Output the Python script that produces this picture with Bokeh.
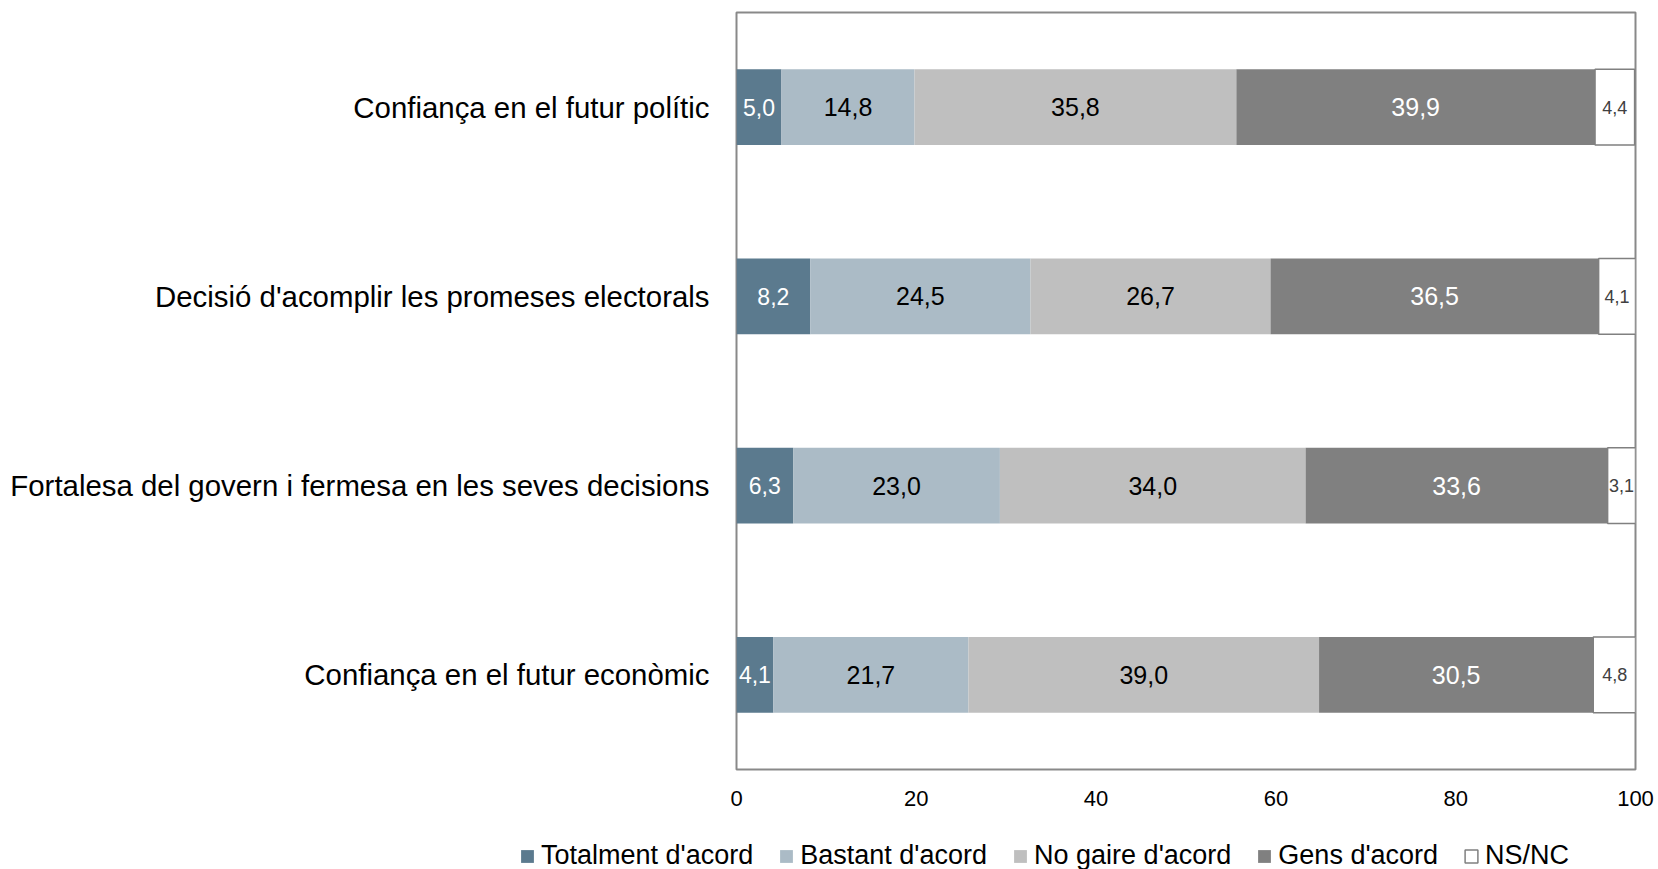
from bokeh.plotting import figure
from bokeh.models import ColumnDataSource, FactorRange, Legend, LegendItem, Range1d, FixedTicker
from bokeh.core.properties import value
from bokeh.embed import file_html
from bokeh.resources import INLINE

categories = [
    "Confiança en el futur polític",
    "Decisió d'acomplir les promeses electorals",
    "Fortalesa del govern i fermesa en les seves decisions",
    "Confiança en el futur econòmic",
]
series_names = ["Totalment d'acord", "Bastant d'acord", "No gaire d'acord", "Gens d'acord", "NS/NC"]
totalment = [5.0, 8.2, 6.3, 4.1]
bastant = [14.8, 24.5, 23.0, 21.7]
no_gaire = [35.8, 26.7, 34.0, 39.0]
gens = [39.9, 36.5, 33.6, 30.5]
nsnc = [4.4, 4.1, 3.1, 4.8]
x_ticks = [0, 20, 40, 60, 80, 100]

keys = ["totalment", "bastant", "no_gaire", "gens", "nsnc"]
series = [totalment, bastant, no_gaire, gens, nsnc]

fill_colors = ["#5B7A8E", "#ABBBC6", "#BFBFBF", "#808080", "#FFFFFF"]
line_colors = [None, None, None, None, "#808080"]
label_colors = ["#FFFFFF", "#000000", "#000000", "#FFFFFF", "#404040"]
label_sizes = ["23px", "25px", "25px", "25px", "18px"]
FONT = "Liberation Sans"

data = {"cat": categories}
for k, s in zip(keys, series):
    data[k] = s
source = ColumnDataSource(data)

p = figure(
    width=1658, height=820,
    y_range=FactorRange(factors=list(reversed(categories))),
    x_range=Range1d(0, 100),
    output_backend="svg", toolbar_location=None,
    min_border_left=736, min_border_right=23, min_border_top=12, min_border_bottom=51,
)

renderers = p.hbar_stack(
    keys, y="cat", height=0.4, source=source,
    fill_color=fill_colors, line_color=line_colors, line_width=1.5,
)

# labels centred in each segment
cum = [0.0] * len(categories)
for i, s in enumerate(series):
    xs = [c + v / 2 for c, v in zip(cum, s)]
    cum = [c + v for c, v in zip(cum, s)]
    lbl = [f"{v:.1f}".replace(".", ",") for v in s]
    src = ColumnDataSource(dict(x=xs, y=categories, t=lbl))
    p.text(x="x", y="y", text="t", source=src, text_align="center", text_baseline="middle",
           text_font=value(FONT), text_font_size=value(label_sizes[i]), text_color=label_colors[i])

p.xgrid.visible = False
p.ygrid.visible = False
p.outline_line_color = "#898989"
p.outline_line_width = 2

xa = p.xaxis[0]
xa.ticker = FixedTicker(ticks=x_ticks)
xa.axis_line_color = None
xa.major_tick_line_color = None
xa.minor_tick_line_color = None
xa.major_label_text_font = FONT
xa.major_label_text_font_size = "22px"
xa.major_label_text_color = "#000000"
xa.major_label_standoff = 15

ya = p.yaxis[0]
ya.axis_line_color = None
ya.major_tick_line_color = None
ya.minor_tick_line_color = None
ya.major_label_text_font = FONT
ya.major_label_text_font_size = "29.4px"
ya.major_label_text_color = "#000000"
ya.major_label_standoff = 21

# legend strip below the chart (separate root so its frame spans the full width)
p2 = figure(
    width=1658, height=49, x_range=Range1d(0, 1658), y_range=Range1d(0, 49),
    output_backend="svg", toolbar_location=None, min_border=0,
)
p2.axis.visible = False
p2.grid.visible = False
p2.outline_line_color = None

legend_renderers = []
for fc, lc in zip(fill_colors, line_colors):
    r = p2.hbar(y=[-100], left=[0], right=[0], height=1, fill_color=fc, line_color=lc, line_width=1.5)
    legend_renderers.append(r)

items = [LegendItem(label=n, renderers=[r]) for n, r in zip(series_names, legend_renderers)]
legend = Legend(
    items=items, orientation="horizontal", location=(519, -2),
    background_fill_alpha=0, border_line_color=None, padding=0, margin=0,
    spacing=25, label_standoff=6, glyph_width=16, glyph_height=16,
    label_text_font=FONT, label_text_font_size="27px", label_text_color="#000000",
)
p2.add_layout(legend)

open("out.html", "w").write(file_html([p, p2], INLINE))
